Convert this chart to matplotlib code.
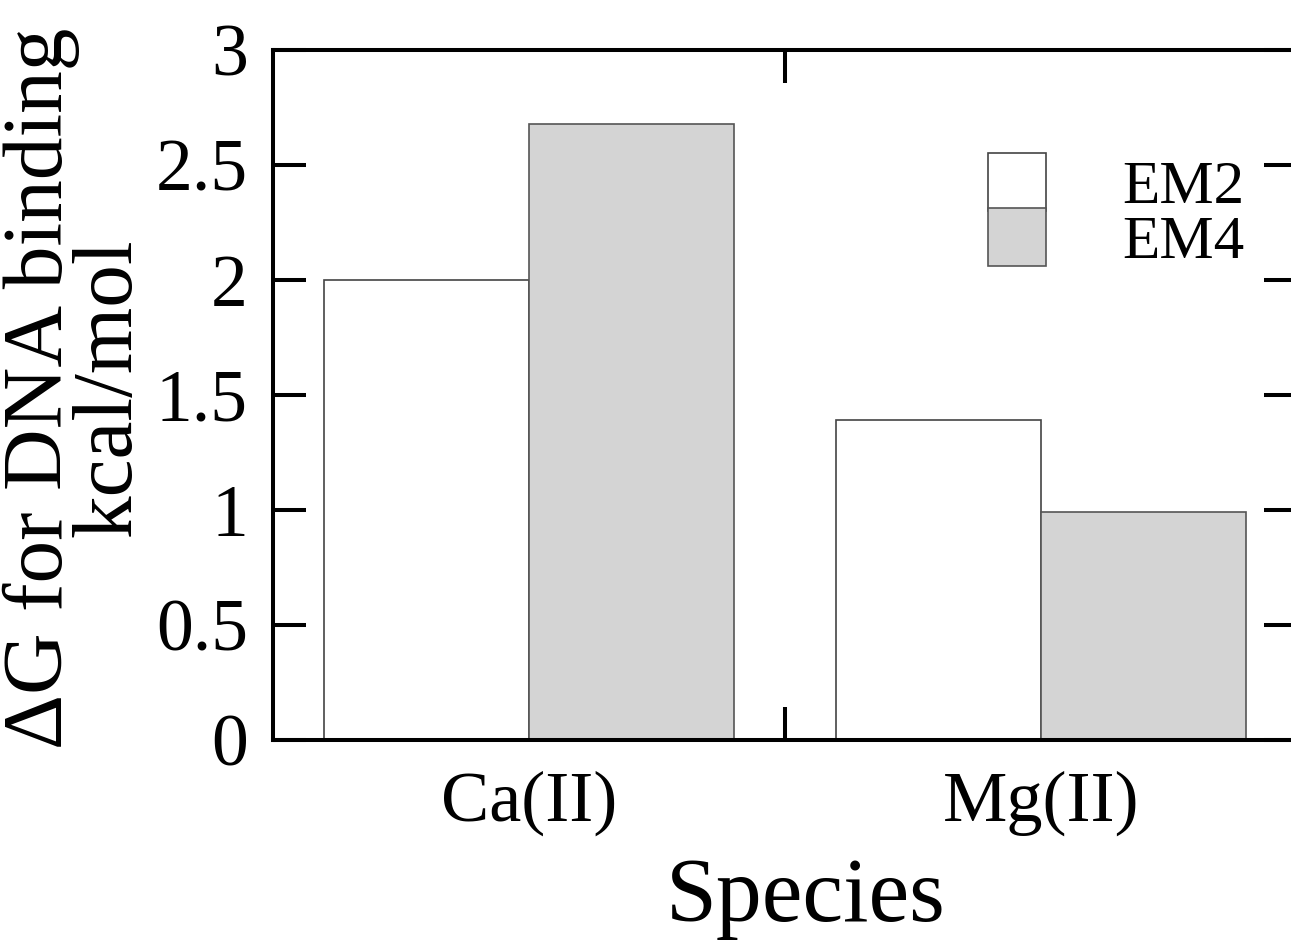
import numpy as np
import matplotlib.pyplot as plt

plt.rcParams['font.family'] = ['Liberation Serif', 'DejaVu Serif']

species = ['Ca(II)', 'Mg(II)']
em2 = [2.0, 1.39]
em4 = [2.68, 0.99]

fig = plt.figure(figsize=(12.91, 9.41), dpi=100)
ax = fig.add_axes([273 / 1291, 1 - 740 / 941, 1024 / 1291, 690 / 941])

index = np.arange(len(species))
bar_width = 0.4

ax.bar(index - bar_width / 2, em2, bar_width, color='white',
       edgecolor='#444444', linewidth=1.2, label='EM2')
ax.bar(index + bar_width / 2, em4, bar_width, color='#d4d4d4',
       edgecolor='#555555', linewidth=1.2, label='EM4')

ax.set_xlim(-0.5, 1.5)
ax.set_ylim(0, 3)
ax.set_xticks(index)
ax.set_xticklabels(species)
ax.set_xticks([0.5], minor=True)
ax.set_yticks(np.arange(0, 3.01, 0.5))
ax.set_yticklabels(['0', '0.5', '1', '1.5', '2', '2.5', '3'])

for s in ax.spines.values():
    s.set_linewidth(2.9)

ax.tick_params(axis='y', which='major', direction='in', length=24, width=2.9,
               labelsize=53, pad=18, left=True, right=True)
ax.tick_params(axis='x', which='major', length=0, labelsize=52, pad=22)
ax.tick_params(axis='x', which='minor', direction='in', length=24, width=2.9,
               top=True, bottom=True)

ax.set_xlabel('Species', fontsize=66)
ax.xaxis.set_label_coords(0.52, -0.17)
ax.set_ylabel('\u0394G for DNA binding\nkcal/mol', fontsize=61.5, linespacing=0.85)
ax.yaxis.set_label_coords(-0.122, 0.51)

ax.legend(loc='upper left', bbox_to_anchor=(988 / 1291, 1 - 153 / 941),
          bbox_transform=fig.transFigure, frameon=False, fontsize=44,
          handlelength=0.95, handleheight=1.09, labelspacing=-0.13,
          handletextpad=1.25, borderpad=0, borderaxespad=0)

plt.savefig('out.png', dpi=100)
